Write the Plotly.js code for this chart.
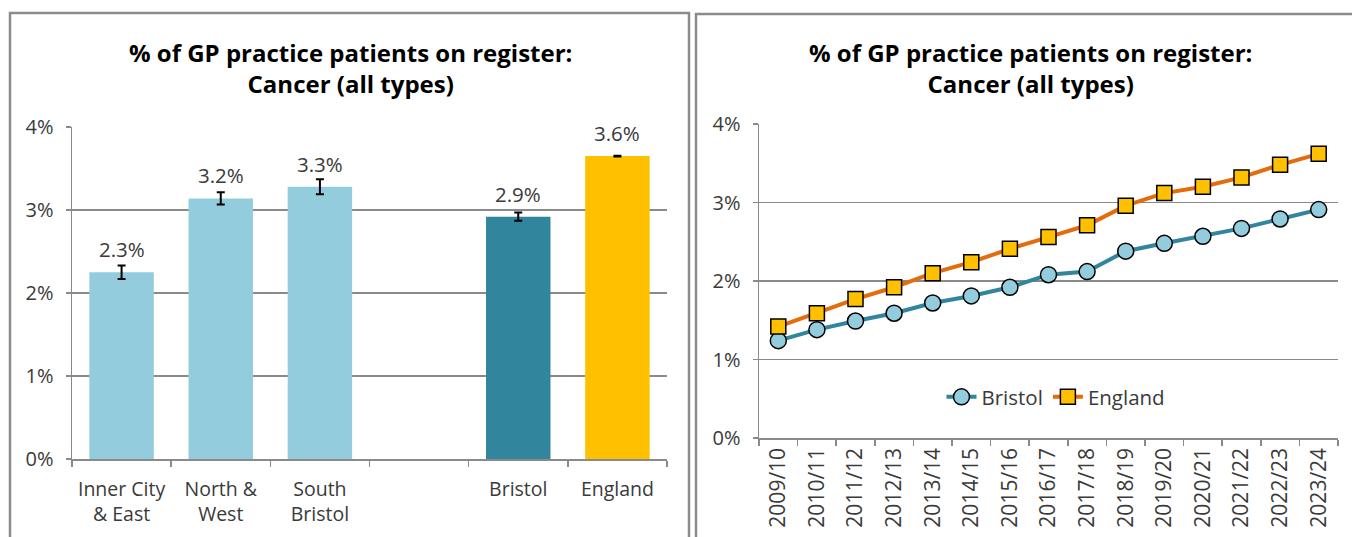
<!DOCTYPE html>
<html><head><meta charset="utf-8">
<script src="https://cdn.plot.ly/plotly-3.0.1.min.js"></script>
<style>html,body{margin:0;padding:0;background:#fff;}#chart{width:1352px;height:537px;}</style>
</head><body><div id="chart"></div>
<script>
// Left chart data
const areaCategories = ["Inner City<br>& East", "North &<br>West", "South<br>Bristol", " ", "Bristol", "England"];
const areaValues = [2.25, 3.14, 3.28, null, 2.92, 3.65];
const areaErrors = [0.08, 0.075, 0.09, null, 0.05, 0.005];
const areaLabels = ["2.3%", "3.2%", "3.3%", "", "2.9%", "3.6%"];
const areaColors = ["#93CDDD", "#93CDDD", "#93CDDD", "#93CDDD", "#31859C", "#FFC000"];

// Right chart data
const years = ["2009/10","2010/11","2011/12","2012/13","2013/14","2014/15","2015/16","2016/17","2017/18","2018/19","2019/20","2020/21","2021/22","2022/23","2023/24"];
const bristolSeries = [1.24,1.38,1.49,1.59,1.72,1.81,1.92,2.08,2.12,2.38,2.48,2.57,2.67,2.79,2.91];
const englandSeries = [1.42,1.59,1.77,1.92,2.10,2.24,2.41,2.56,2.71,2.96,3.12,3.20,3.32,3.48,3.62];

const W = 1352, H = 537;
const px = x => x / W;
const py = y => (H - y) / H;
const FONT = "'Open Sans', 'Noto Sans', sans-serif";
const TXT = "#3a3a3a";
const GRID = "#8a8a8a";

const traces = [
  {
    type: "bar", x: areaCategories, y: areaValues, xaxis: "x", yaxis: "y",
    marker: {color: areaColors}, width: 0.65,
    error_y: {type: "data", array: areaErrors, visible: true, color: "#000", thickness: 2, width: 4},
    showlegend: false, hoverinfo: "skip"
  },
  {
    type: "scatter", mode: "lines+markers", name: "Bristol", x: years, y: bristolSeries,
    xaxis: "x2", yaxis: "y2",
    line: {color: "#31859C", width: 4},
    marker: {symbol: "circle", size: 16, color: "#93CDDD", line: {color: "#000", width: 1.5}}
  },
  {
    type: "scatter", mode: "lines+markers", name: "England", x: years, y: englandSeries,
    xaxis: "x2", yaxis: "y2",
    line: {color: "#E46C0A", width: 4},
    marker: {symbol: "square", size: 15, color: "#FFC000", line: {color: "#000", width: 1.5}}
  }
];

const annotations = [];
areaCategories.forEach((c, i) => {
  if (areaValues[i] === null) return;
  annotations.push({
    xref: "x", yref: "y", x: c, y: areaValues[i], text: areaLabels[i],
    showarrow: false, yanchor: "middle", yshift: 23,
    font: {family: FONT, size: 20.5, color: TXT}
  });
});
const titleText = "<b>% of GP practice patients on register:<br>Cancer (all types)</b>";
annotations.push({xref: "paper", yref: "paper", x: px(350), y: py(68), text: titleText, showarrow: false,
  xanchor: "center", yanchor: "middle", font: {family: FONT, size: 24, color: "#000"}});
annotations.push({xref: "paper", yref: "paper", x: px(1030), y: py(68), text: titleText, showarrow: false,
  xanchor: "center", yanchor: "middle", font: {family: FONT, size: 24, color: "#000"}});

const shapes = [
  {type: "rect", xref: "paper", yref: "paper", x0: px(10), x1: px(689), y0: py(560), y1: py(13),
   line: {color: "#8C8C8C", width: 2.5}},
  {type: "rect", xref: "paper", yref: "paper", x0: px(696), x1: px(1370), y0: py(560), y1: py(14),
   line: {color: "#8C8C8C", width: 2.5}}
];

const axisCommon = {
  showline: true, linecolor: GRID, linewidth: 1.5,
  tickfont: {family: FONT, size: 19.5, color: TXT},
  fixedrange: true
};

const layout = {
  width: W, height: H,
  margin: {l: 0, r: 0, t: 0, b: 0},
  paper_bgcolor: "#fff", plot_bgcolor: "#fff",
  showlegend: true,
  legend: {orientation: "h", x: px(1056), y: py(397), xanchor: "center", yanchor: "middle",
    font: {family: FONT, size: 20.5, color: TXT}, bgcolor: "rgba(0,0,0,0)", tracegroupgap: 0},
  xaxis: Object.assign({}, axisCommon, {
    domain: [px(72), px(667)], anchor: "y", type: "category",
    categoryorder: "array", categoryarray: areaCategories,
    range: [-0.5, 5.5], ticks: "outside", ticklen: 6, tickcolor: GRID, tickwidth: 1.5,
    tickson: "boundaries", showgrid: false, tickangle: 0, ticklabelstandoff: 12
  }),
  yaxis: Object.assign({}, axisCommon, {
    domain: [py(459), py(127)], anchor: "x", range: [0, 4], dtick: 1,
    ticksuffix: "%", showgrid: true, gridcolor: GRID, gridwidth: 1.5,
    ticks: "outside", ticklen: 5, tickcolor: GRID, tickwidth: 1.5, zeroline: false,
    ticklabelstandoff: 8, tickfont: {family: FONT, size: 20, color: TXT}
  }),
  xaxis2: Object.assign({}, axisCommon, {
    domain: [px(759), px(1338)], anchor: "y2", type: "category",
    range: [-0.5, 14.5], ticks: "outside", ticklen: 6, tickcolor: GRID, tickwidth: 1.5,
    tickson: "boundaries", showgrid: false, tickangle: -90,
    tickfont: {family: FONT, size: 21, color: TXT}
  }),
  yaxis2: Object.assign({}, axisCommon, {
    domain: [py(438), py(124)], anchor: "x2", range: [0, 4], dtick: 1,
    ticksuffix: "%", showgrid: true, gridcolor: GRID, gridwidth: 1.5,
    ticks: "outside", ticklen: 5, tickcolor: GRID, tickwidth: 1.5, zeroline: false,
    ticklabelstandoff: 8, tickfont: {family: FONT, size: 20, color: TXT}
  }),
  annotations: annotations,
  shapes: shapes
};

Plotly.newPlot("chart", traces, layout, {displayModeBar: false, staticPlot: true});
</script></body></html>
